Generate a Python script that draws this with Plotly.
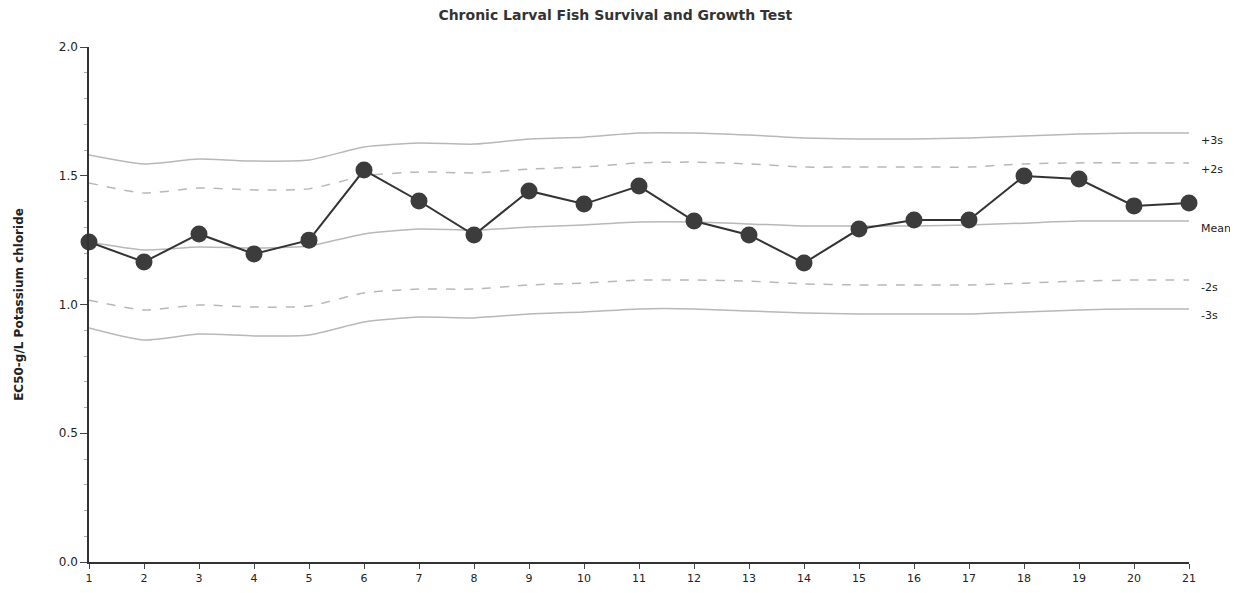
import plotly.graph_objects as go

runs = list(range(1, 22))
ec50 = [1.243, 1.165, 1.274, 1.196, 1.250, 1.522, 1.402, 1.270, 1.441, 1.390, 1.460,
        1.324, 1.270, 1.161, 1.293, 1.328, 1.328, 1.499, 1.487, 1.383, 1.394]
mean = [1.243, 1.212, 1.223, 1.219, 1.227, 1.274, 1.293, 1.289, 1.301, 1.309, 1.320,
        1.320, 1.313, 1.305, 1.305, 1.305, 1.309, 1.316, 1.324, 1.324, 1.324]
plus3 = [1.581, 1.546, 1.565, 1.557, 1.561, 1.612, 1.627, 1.623, 1.643, 1.650, 1.666,
         1.666, 1.658, 1.647, 1.643, 1.643, 1.647, 1.654, 1.662, 1.666, 1.666]
plus2 = [1.472, 1.433, 1.452, 1.445, 1.449, 1.499, 1.515, 1.511, 1.526, 1.534, 1.550,
         1.553, 1.546, 1.534, 1.534, 1.534, 1.534, 1.546, 1.550, 1.550, 1.550]
minus2 = [1.017, 0.979, 0.998, 0.990, 0.994, 1.045, 1.060, 1.060, 1.076, 1.083, 1.095,
          1.095, 1.091, 1.080, 1.076, 1.076, 1.076, 1.083, 1.091, 1.095, 1.095]
minus3 = [0.909, 0.862, 0.885, 0.878, 0.882, 0.932, 0.951, 0.948, 0.963, 0.971, 0.983,
          0.983, 0.975, 0.967, 0.963, 0.963, 0.963, 0.971, 0.979, 0.983, 0.983]
y_ticks = [0.0, 0.5, 1.0, 1.5, 2.0]
band_labels = ["+3s", "+2s", "Mean", "-2s", "-3s"]

FONT = "DejaVu Sans"
GRAY = "#b8b8b8"

fig = go.Figure()
bands = [(plus3, "solid"), (plus2, "dash"), (mean, "solid"), (minus2, "dash"), (minus3, "solid")]
for vals, dash in bands:
    fig.add_trace(go.Scatter(x=runs, y=vals, mode="lines",
                             line=dict(color=GRAY, width=1.5, dash=dash, shape="spline", smoothing=0.6),
                             hoverinfo="skip", showlegend=False, cliponaxis=False))

fig.add_trace(go.Scatter(x=runs, y=ec50, mode="lines+markers",
                         line=dict(color="#333333", width=2),
                         marker=dict(size=17, color="#3c3c3c"),
                         showlegend=False, cliponaxis=False))

for (vals, _), lab in zip(bands, band_labels):
    fig.add_annotation(x=runs[-1], y=vals[-1], text=lab, showarrow=False,
                       xanchor="left", yanchor="middle", xshift=10, yshift=-7,
                       font=dict(family=FONT, size=11, color="#222"))

fig.update_layout(
    width=1222, height=577,
    margin=dict(l=81, r=41, t=39, b=23, autoexpand=False),
    paper_bgcolor="white", plot_bgcolor="white",
    title=dict(text="<b>Chronic Larval Fish Survival and Growth Test</b>",
               x=0.497, xanchor="center", xref="container",
               y=0.988, yanchor="middle", yref="container",
               font=dict(family=FONT, size=14, color="#333")),
    font=dict(family=FONT, size=12, color="#222"),
)
fig.update_xaxes(range=[1, 21], tickmode="array", tickvals=runs, ticktext=[str(r) for r in runs],
                 showgrid=False, zeroline=False, showline=True, linecolor="#333", linewidth=1.5,
                 ticks="outside", ticklen=5, tickcolor="#444", automargin=False,
                 tickfont=dict(family=FONT, size=11, color="#222"))
fig.update_yaxes(range=[0, 2], tickmode="array", tickvals=y_ticks,
                 ticktext=[f"{v:.1f}" for v in y_ticks],
                 showgrid=False, zeroline=False, showline=True, linecolor="#333", linewidth=1.5,
                 ticks="outside", ticklen=7, tickcolor="#444", automargin=False,
                 minor=dict(dtick=0.1, ticks="outside", ticklen=3, tickcolor="#aaa", showgrid=False),
                 tickfont=dict(family=FONT, size=12, color="#222"),
                 title=dict(text="<b>EC50-g/L Potassium chloride</b>", standoff=33,
                            font=dict(family=FONT, size=12, color="#222")))

fig.write_html("out.html")
